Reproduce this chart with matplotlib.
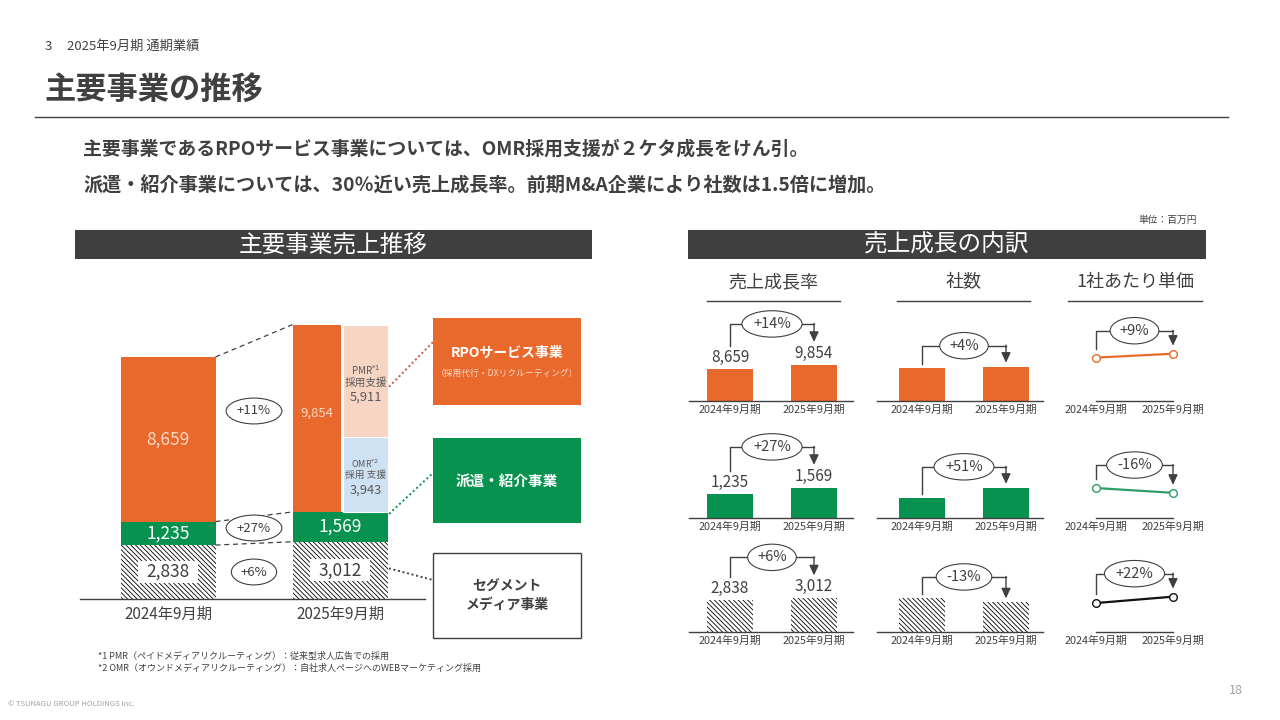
import matplotlib
matplotlib.use('Agg')
import matplotlib.pyplot as plt
from matplotlib.patches import Rectangle

plt.rcParams['font.family'] = ['Noto Sans CJK JP', 'DejaVu Sans']
plt.rcParams['hatch.linewidth'] = 0.6
plt.rcParams['hatch.color'] = 'black'

W, H = 1280, 720
DARK = '#404040'
ORANGE = '#E8692B'
GREEN = '#08924F'
PINK = '#F8D5C3'
BLUE = '#CFE2F4'
PEACH = '#FAD8C5'
HATCH = '\\\\\\\\\\\\\\'

# ---------------- data ----------------
periods = ['2024年9月期', '2025年9月期']
rpo_sales = [8659, 9854]
pmr_sales_2025 = 5911
omr_sales_2025 = 3943
haken_sales = [1235, 1569]
media_sales = [2838, 3012]
segment_growth = ['+11%', '+27%', '+6%']

sales_growth = ['+14%', '+27%', '+6%']
company_index = [[100, 104], [100, 151], [100, 87]]
company_growth = ['+4%', '+51%', '-13%']
unit_price_index = [[100, 109], [100, 84], [100, 122]]
unit_price_growth = ['+9%', '-16%', '+22%']

fig = plt.figure(figsize=(12.8, 7.2), dpi=100)


def px_axes(x0, y0, x1, y1):
    ax = fig.add_axes([x0 / W, 1 - y1 / H, (x1 - x0) / W, (y1 - y0) / H])
    ax.set_facecolor('none')
    return ax


# ---------------- main stacked chart ----------------
K = 242 / 12732.0
ax = px_axes(80, 300, 425, 599)
c0, unit = 168, 172
ax.set_xlim((80 - c0) / unit, (425 - c0) / unit)
ax.set_ylim(0, 299 / K)
w = 95 / unit
for i in range(2):
    ax.bar(i, media_sales[i], w, color='white', edgecolor='black', linewidth=0, hatch=HATCH)
    ax.bar(i, haken_sales[i], w, bottom=media_sales[i], color=GREEN, linewidth=0)
ax.bar(0, rpo_sales[0], w, bottom=media_sales[0] + haken_sales[0], color=ORANGE, linewidth=0)
base25 = media_sales[1] + haken_sales[1]
xo, wo = (317 - c0) / unit, 48 / unit
xs, ws = (365.5 - c0) / unit, 45 / unit
ax.bar(xo, rpo_sales[1], wo, bottom=base25, color=ORANGE, linewidth=0)
ax.bar(xs, omr_sales_2025, ws, bottom=base25, color=BLUE, edgecolor='white', linewidth=0.8)
ax.bar(xs, pmr_sales_2025, ws, bottom=base25 + omr_sales_2025, color=PINK, edgecolor='white', linewidth=0.8)

tops = [[media_sales[i] + haken_sales[i] + rpo_sales[i] for i in range(2)],
        [media_sales[i] + haken_sales[i] for i in range(2)],
        media_sales]
for t in tops:
    ax.plot([w / 2, 1 - w / 2], t, color=DARK, lw=0.9, ls=(0, (4, 3)))

for s in ['top', 'left', 'right']:
    ax.spines[s].set_visible(False)
ax.spines['bottom'].set_color(DARK)
ax.spines['bottom'].set_linewidth(1)
ax.set_yticks([])
ax.set_xticks([0, 1], periods, fontsize=11, color=DARK)
ax.tick_params(axis='x', length=0, pad=5)

# ---------------- mini charts ----------------
col_frames = [(689, 853, 730, 814), (877, 1043, 922, 1006), (1060, 1210, 1096, 1173)]
row_base = [401, 518, 632]
AXH = 95
sales_ymax = [25960, 4950, 8505]
company_ymax = [288, 475, 279]
price_ymax = [219, 317, 328]
row_colors = [ORANGE, GREEN, None]
line_colors = [ORANGE, '#2E9C66', '#111111']
sales_rows = [rpo_sales, haken_sales, media_sales]

mini = []
for r in range(3):
    rowax = []
    for c, (xl, xr, p0, p1) in enumerate(col_frames):
        a = px_axes(xl, row_base[r] - AXH, xr, row_base[r])
        d = p1 - p0
        a.set_xlim((xl - p0) / d, (xr - p0) / d)
        bw = 46 / d
        if c == 0:
            vals = sales_rows[r]
            a.set_ylim(0, sales_ymax[r])
        elif c == 1:
            vals = company_index[r]
            a.set_ylim(0, company_ymax[r])
        else:
            vals = unit_price_index[r]
            a.set_ylim(0, price_ymax[r])
        if c < 2:
            if row_colors[r] is None:
                a.bar([0, 1], vals, bw, color='white', edgecolor='black', linewidth=0, hatch=HATCH)
            else:
                a.bar([0, 1], vals, bw, color=row_colors[r], linewidth=0)
        else:
            a.plot([0, 1], vals, color=line_colors[r], lw=1.6, marker='o', ms=5.5,
                   mfc='white', mec=line_colors[r], mew=1.0, clip_on=False)
            a.spines['bottom'].set_bounds(0, 1)
        for s in ['top', 'left', 'right']:
            a.spines[s].set_visible(False)
        a.spines['bottom'].set_color(DARK)
        a.spines['bottom'].set_linewidth(1)
        a.set_yticks([])
        a.set_xticks([0, 1], periods, fontsize=7.8, color=DARK)
        a.tick_params(axis='x', length=0, pad=2.5)
        rowax.append((a, vals))
    mini.append(rowax)

# ---------------- overlay (page) ----------------
bg = fig.add_axes([0, 0, 1, 1], zorder=10)
bg.set_xlim(0, W)
bg.set_ylim(H, 0)
bg.axis('off')
bg.set_facecolor('none')


def d2p(a, x, y):
    X, Y = a.transData.transform((x, y))
    return X, H - Y


# header texts
bg.text(45, 46, '3', fontsize=9.5, color=DARK, va='center')
bg.text(67, 46, '2025年9月期 通期業績', fontsize=9.5, color=DARK, va='center')
bg.text(44, 90, '主要事業の推移', fontsize=22.5, weight='bold', color=DARK, va='center')
bg.plot([35, 1228], [117, 117], color=DARK, lw=1)
bg.text(83, 149, '主要事業であるRPOサービス事業については、OMR採用支援が２ケタ成長をけん引。',
        fontsize=13.6, weight='bold', color=DARK, va='center')
bg.text(83, 186, '派遣・紹介事業については、30％近い売上成長率。前期M&A企業により社数は1.5倍に増加。',
        fontsize=13.8, weight='bold', color=DARK, va='center')
bg.text(1197, 220, '単位：百万円', fontsize=7, color=DARK, ha='right', va='center')

# section headers
for (x0, x1, t) in [(75, 592, '主要事業売上推移'), (688, 1206, '売上成長の内訳')]:
    bg.add_patch(Rectangle((x0, 230), x1 - x0, 29, fc='#3F3F3F', ec='none'))
    bg.text((x0 + x1) / 2, 245, t, fontsize=17, color='white', ha='center', va='center')

# column headers
for (x0, x1, t) in [(707, 840, '売上成長率'), (897, 1030, '社数'), (1068, 1202, '1社あたり単価')]:
    bg.text((x0 + x1) / 2, 282, t, fontsize=13, color=DARK, ha='center', va='center')
    bg.plot([x0, x1], [301, 301], color=DARK, lw=1)

# main chart labels
v0_rpo = media_sales[0] + haken_sales[0] + rpo_sales[0] / 2
X, Y = d2p(ax, 0, v0_rpo)
bg.text(X, Y, f'{rpo_sales[0]:,}', fontsize=12.5, color=PEACH, ha='center', va='center')
for i in range(2):
    X, Y = d2p(ax, i, media_sales[i] + haken_sales[i] / 2)
    bg.text(X, Y, f'{haken_sales[i]:,}', fontsize=12.5, color='white', ha='center', va='center')
    X, Y = d2p(ax, i, media_sales[i] / 2)
    bg.add_patch(Rectangle((X - 30, Y - 11), 60, 22, fc='white', ec='none', zorder=2))
    bg.text(X, Y, f'{media_sales[i]:,}', fontsize=12.5, color=DARK, ha='center', va='center', zorder=3)
X, Y = d2p(ax, xo, base25 + rpo_sales[1] / 2)
bg.text(X, Y - 5, f'{rpo_sales[1]:,}', fontsize=9.5, color=PEACH, ha='center', va='center')
X, Y = d2p(ax, xs, base25 + omr_sales_2025 + pmr_sales_2025 / 2)
bg.text(X, Y - 11, r'PMR$^{*1}$', fontsize=7, color='#595959', ha='center', va='center')
bg.text(X, Y + 2, '採用支援', fontsize=7.7, color='#595959', ha='center', va='center')
bg.text(X, Y + 16, f'{pmr_sales_2025:,}', fontsize=9.3, color='#595959', ha='center', va='center')
X, Y = d2p(ax, xs, base25 + omr_sales_2025 / 2)
bg.text(X, Y - 10.5, r'OMR$^{*2}$', fontsize=6.5, color='#595959', ha='center', va='center')
bg.text(X, Y, '採用 支援', fontsize=7, color='#595959', ha='center', va='center')
bg.text(X, Y + 15.5, f'{omr_sales_2025:,}', fontsize=9.3, color='#595959', ha='center', va='center')

# main ovals
for yy, t in zip([411, 528, 572], segment_growth):
    bg.text(254, yy, t, fontsize=9.5, color=DARK, ha='center', va='center', zorder=5,
            bbox=dict(boxstyle='ellipse,pad=0.2', fc='white', ec=DARK, lw=0.8))

# dotted connectors to boxes
xr_edge, _ = d2p(ax, xs + ws / 2, 0)
_, yp = d2p(ax, xs, base25 + omr_sales_2025 + pmr_sales_2025 / 2)
bg.plot([xr_edge + 1, 433], [yp + 6, 342], color='#D0563A', lw=1.4, ls=(0, (1, 1.4)))
_, yg = d2p(ax, 1, base25)
bg.plot([xr_edge + 1, 433], [yg + 2, 473], color=GREEN, lw=1.4, ls=(0, (1, 1.4)))
_, ym = d2p(ax, 1, media_sales[1] / 2)
bg.plot([xr_edge + 1, 433], [ym - 2, 580], color=DARK, lw=1.4, ls=(0, (1, 1.4)))

# boxes
bg.add_patch(Rectangle((433, 318), 148, 87, fc=ORANGE, ec='none'))
bg.text(507, 353, 'RPOサービス事業', fontsize=10, weight='bold', color='white', ha='center', va='center')
bg.text(507, 373, '（採用代行・DXリクルーティング）', fontsize=6.3, color=PEACH, ha='center', va='center')
bg.add_patch(Rectangle((433, 438), 148, 85, fc=GREEN, ec='none'))
bg.text(507, 481, '派遣・紹介事業', fontsize=10.5, weight='bold', color='white', ha='center', va='center')
bg.add_patch(Rectangle((433, 553), 148, 85, fc='white', ec=DARK, lw=1))
bg.text(507, 587, 'セグメント', fontsize=10, weight='bold', color=DARK, ha='center', va='center')
bg.text(507, 605, 'メディア事業', fontsize=10, weight='bold', color=DARK, ha='center', va='center')

# mini chart annotations
growths = [sales_growth, company_growth, unit_price_growth]
offsets = [(41, 23, 23), (21, 4, 4), (23, 9, 8)]
for r in range(3):
    for c in range(3):
        a, vals = mini[r][c]
        x0p, y0p = d2p(a, 0, vals[0])
        x1p, y1p = d2p(a, 1, vals[1])
        if c == 0:
            for i in range(2):
                xp, ypv = d2p(a, i, vals[i])
                bg.text(xp, ypv - 3, f'{vals[i]:,}', fontsize=11, color=DARK, ha='center', va='bottom')
        to, lo, ao = offsets[c]
        top = min(y0p, y1p) - to
        lb = y0p - lo
        tip = y1p - ao
        bg.plot([x0p, x0p, x1p], [lb, top, top], color=DARK, lw=1)
        bg.annotate('', xy=(x1p, tip), xytext=(x1p, top - 0.5),
                    arrowprops=dict(arrowstyle='-|>,head_length=0.6,head_width=0.28',
                                    color=DARK, lw=1, shrinkA=0, shrinkB=0, mutation_scale=10))
        bg.text((x0p + x1p) / 2, top, growths[c][r], fontsize=10.5, color=DARK,
                ha='center', va='center', zorder=5,
                bbox=dict(boxstyle='ellipse,pad=0.16', fc='white', ec=DARK, lw=0.8))

# footnotes
bg.text(98, 656, '*1 PMR（ペイドメディアリクルーティング）：従来型求人広告での採用', fontsize=6.5, color=DARK, va='center')
bg.text(98, 668, '*2 OMR（オウンドメディアリクルーティング）：自社求人ページへのWEBマーケティング採用', fontsize=6.5, color=DARK, va='center')
bg.text(8, 704, '© TSUNAGU GROUP HOLDINGS Inc.', fontsize=5.5, color='#A0A0A0', va='center')
bg.text(1236, 691, '18', fontsize=9, color='#A0A0A0', ha='center', va='center')

fig.savefig('out.png', dpi=100)
